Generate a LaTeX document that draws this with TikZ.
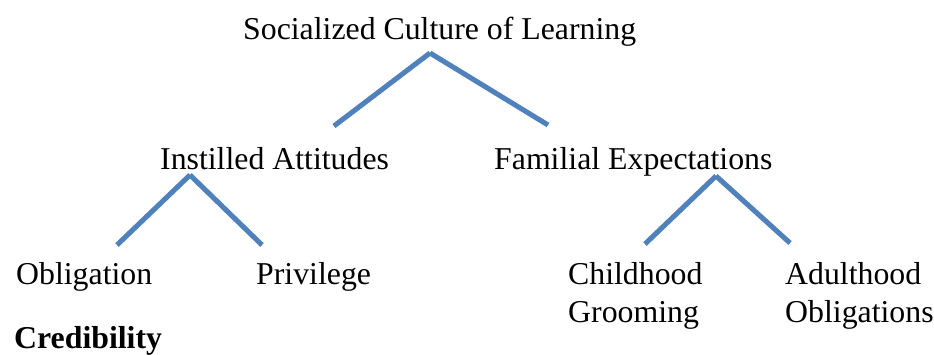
\documentclass[tikz,border=0pt]{standalone}
\usepackage{fontspec}
\setmainfont{Liberation Serif}
\definecolor{linkblue}{HTML}{4F81BD}
\begin{document}
\begin{tikzpicture}[x=1pt,y=-1pt,
  lbl/.style={anchor=base west,inner sep=0pt,font=\fontsize{31.8}{38}\selectfont},
  link/.style={draw=linkblue,line width=5pt},
  shade/.style={draw=black!12,line width=5pt,shift={(1.5,2.5)}}]
\useasboundingbox (0,0) rectangle (934,355);
% texts
\node[lbl] (root) at (243,40) {Socialized Culture of Learning};
\node[lbl] (ia) at (160,170) {Instilled Attitudes};
\node[lbl] (fe) at (494,170) {Familial Expectations};
\node[lbl] (ob) at (16,285) {Obligation};
\node[lbl] (pr) at (256,285) {Privilege};
\node[lbl,align=left] (cg) at (568,322) {Childhood\\Grooming};
\node[lbl,align=left] (ao) at (785,322) {Adulthood\\Obligations};
\node[lbl,font=\fontsize{31.8}{38}\selectfont\bfseries] (cr) at (14,348) {Credibility};
% connector coordinates
\coordinate (p0) at (430,53);
\coordinate (p0l) at (334,126);
\coordinate (p0r) at (548,125);
\coordinate (p1) at (190,175);
\coordinate (p1l) at (117,245);
\coordinate (p1r) at (262,245);
\coordinate (p2) at (716,176);
\coordinate (p2l) at (645,244);
\coordinate (p2r) at (790,243);
% shadows
\foreach \a/\b in {p0/p0l,p0/p0r,p1/p1l,p1/p1r,p2/p2l,p2/p2r}
  \draw[shade] (\a) -- (\b);
% connectors
\foreach \a/\b in {p0/p0l,p0/p0r,p1/p1l,p1/p1r,p2/p2l,p2/p2r}
  \draw[link] (\a) -- (\b);
\end{tikzpicture}
\end{document}
